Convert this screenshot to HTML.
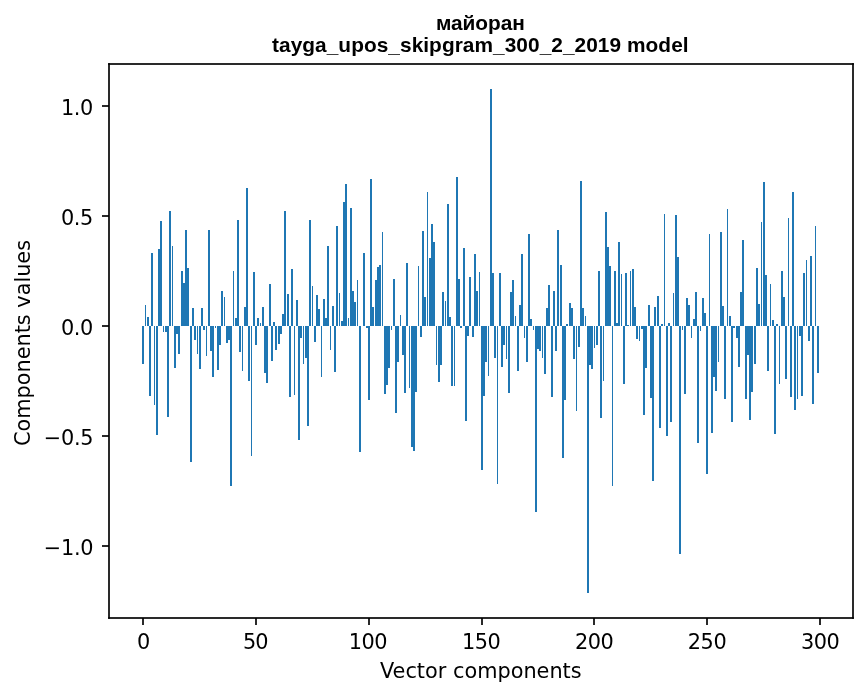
<!DOCTYPE html>
<html lang="ru">
<head>
<meta charset="utf-8">
<title>майоран — tayga_upos_skipgram_300_2_2019 model</title>
<style>
html,body{margin:0;padding:0;background:#fff;}
body{width:867px;height:696px;overflow:hidden;}
svg{display:block;}
.lab text{font-family:"DejaVu Sans","Liberation Sans",sans-serif;font-size:20.833px;fill:#000;}
.ttl text{font-family:"Liberation Sans","Arial",sans-serif;font-weight:bold;font-size:20.833px;fill:#000;}
</style>
</head>
<body>
<svg width="867" height="696" viewBox="0 0 867 696">
<rect x="0" y="0" width="867" height="696" fill="#ffffff"/>
<g fill="#1f77b4" shape-rendering="crispEdges">
<rect x="142" y="326" width="2" height="38"/>
<rect x="145" y="305" width="1" height="21"/>
<rect x="147" y="317" width="2" height="9"/>
<rect x="149" y="326" width="2" height="70"/>
<rect x="151" y="253" width="2" height="73"/>
<rect x="154" y="326" width="1" height="79"/>
<rect x="156" y="326" width="2" height="109"/>
<rect x="158" y="249" width="2" height="77"/>
<rect x="160" y="221" width="2" height="105"/>
<rect x="163" y="326" width="1" height="6"/>
<rect x="165" y="326" width="2" height="6"/>
<rect x="167" y="326" width="2" height="91"/>
<rect x="169" y="211" width="2" height="115"/>
<rect x="172" y="246" width="1" height="80"/>
<rect x="174" y="326" width="2" height="42"/>
<rect x="176" y="326" width="2" height="8"/>
<rect x="178" y="326" width="2" height="28"/>
<rect x="181" y="271" width="2" height="55"/>
<rect x="183" y="283" width="2" height="43"/>
<rect x="185" y="230" width="2" height="96"/>
<rect x="187" y="268" width="2" height="58"/>
<rect x="190" y="326" width="2" height="136"/>
<rect x="192" y="308" width="2" height="18"/>
<rect x="194" y="326" width="2" height="14"/>
<rect x="197" y="326" width="1" height="28"/>
<rect x="199" y="326" width="2" height="43"/>
<rect x="201" y="308" width="2" height="18"/>
<rect x="203" y="326" width="2" height="4"/>
<rect x="206" y="326" width="1" height="30"/>
<rect x="208" y="230" width="2" height="96"/>
<rect x="210" y="326" width="2" height="25"/>
<rect x="212" y="326" width="2" height="51"/>
<rect x="215" y="326" width="1" height="2"/>
<rect x="217" y="326" width="2" height="44"/>
<rect x="219" y="326" width="2" height="19"/>
<rect x="221" y="291" width="2" height="35"/>
<rect x="224" y="297" width="1" height="29"/>
<rect x="226" y="326" width="2" height="17"/>
<rect x="228" y="326" width="2" height="14"/>
<rect x="230" y="326" width="2" height="160"/>
<rect x="233" y="271" width="1" height="55"/>
<rect x="235" y="318" width="2" height="8"/>
<rect x="237" y="220" width="2" height="106"/>
<rect x="239" y="326" width="2" height="26"/>
<rect x="242" y="326" width="1" height="45"/>
<rect x="244" y="307" width="2" height="19"/>
<rect x="246" y="188" width="2" height="138"/>
<rect x="248" y="326" width="2" height="55"/>
<rect x="251" y="326" width="1" height="130"/>
<rect x="253" y="272" width="2" height="54"/>
<rect x="255" y="326" width="2" height="19"/>
<rect x="257" y="318" width="2" height="8"/>
<rect x="260" y="323" width="1" height="3"/>
<rect x="262" y="307" width="2" height="19"/>
<rect x="264" y="326" width="2" height="47"/>
<rect x="266" y="326" width="2" height="57"/>
<rect x="269" y="284" width="2" height="42"/>
<rect x="271" y="326" width="2" height="35"/>
<rect x="273" y="322" width="2" height="4"/>
<rect x="275" y="326" width="2" height="24"/>
<rect x="278" y="326" width="2" height="18"/>
<rect x="280" y="326" width="2" height="8"/>
<rect x="282" y="314" width="2" height="12"/>
<rect x="284" y="211" width="2" height="115"/>
<rect x="287" y="294" width="2" height="32"/>
<rect x="289" y="326" width="2" height="71"/>
<rect x="291" y="269" width="2" height="57"/>
<rect x="294" y="326" width="1" height="69"/>
<rect x="296" y="300" width="2" height="26"/>
<rect x="298" y="326" width="2" height="114"/>
<rect x="300" y="326" width="2" height="12"/>
<rect x="303" y="326" width="1" height="38"/>
<rect x="305" y="326" width="2" height="32"/>
<rect x="307" y="326" width="2" height="100"/>
<rect x="309" y="220" width="2" height="106"/>
<rect x="312" y="286" width="1" height="40"/>
<rect x="314" y="326" width="2" height="16"/>
<rect x="316" y="295" width="2" height="31"/>
<rect x="318" y="309" width="2" height="17"/>
<rect x="321" y="326" width="1" height="51"/>
<rect x="323" y="299" width="2" height="27"/>
<rect x="325" y="318" width="2" height="8"/>
<rect x="327" y="246" width="2" height="80"/>
<rect x="330" y="326" width="1" height="24"/>
<rect x="332" y="306" width="2" height="20"/>
<rect x="334" y="326" width="2" height="46"/>
<rect x="336" y="226" width="2" height="100"/>
<rect x="339" y="293" width="1" height="33"/>
<rect x="341" y="321" width="2" height="5"/>
<rect x="343" y="202" width="2" height="124"/>
<rect x="345" y="184" width="2" height="142"/>
<rect x="348" y="318" width="1" height="8"/>
<rect x="350" y="208" width="2" height="118"/>
<rect x="352" y="291" width="2" height="35"/>
<rect x="354" y="302" width="2" height="24"/>
<rect x="357" y="280" width="1" height="46"/>
<rect x="359" y="326" width="2" height="126"/>
<rect x="363" y="253" width="2" height="73"/>
<rect x="366" y="326" width="2" height="2"/>
<rect x="368" y="326" width="2" height="74"/>
<rect x="370" y="179" width="2" height="147"/>
<rect x="372" y="307" width="2" height="19"/>
<rect x="375" y="280" width="2" height="46"/>
<rect x="377" y="267" width="2" height="59"/>
<rect x="379" y="265" width="2" height="61"/>
<rect x="382" y="232" width="1" height="94"/>
<rect x="384" y="326" width="2" height="68"/>
<rect x="386" y="326" width="2" height="59"/>
<rect x="388" y="326" width="2" height="42"/>
<rect x="391" y="326" width="1" height="4"/>
<rect x="393" y="279" width="2" height="47"/>
<rect x="395" y="326" width="2" height="87"/>
<rect x="397" y="326" width="2" height="36"/>
<rect x="400" y="315" width="1" height="11"/>
<rect x="402" y="326" width="2" height="29"/>
<rect x="404" y="326" width="2" height="67"/>
<rect x="406" y="263" width="2" height="63"/>
<rect x="409" y="326" width="1" height="62"/>
<rect x="411" y="326" width="2" height="121"/>
<rect x="413" y="326" width="2" height="125"/>
<rect x="415" y="326" width="2" height="66"/>
<rect x="418" y="266" width="1" height="60"/>
<rect x="420" y="326" width="2" height="11"/>
<rect x="422" y="231" width="2" height="95"/>
<rect x="424" y="297" width="2" height="29"/>
<rect x="427" y="192" width="1" height="134"/>
<rect x="429" y="258" width="2" height="68"/>
<rect x="431" y="224" width="2" height="102"/>
<rect x="433" y="242" width="2" height="84"/>
<rect x="436" y="326" width="1" height="39"/>
<rect x="438" y="326" width="2" height="56"/>
<rect x="440" y="326" width="2" height="39"/>
<rect x="442" y="292" width="2" height="34"/>
<rect x="445" y="301" width="1" height="25"/>
<rect x="447" y="204" width="2" height="122"/>
<rect x="449" y="317" width="2" height="9"/>
<rect x="451" y="326" width="2" height="60"/>
<rect x="454" y="326" width="1" height="60"/>
<rect x="456" y="177" width="2" height="149"/>
<rect x="458" y="279" width="2" height="47"/>
<rect x="460" y="326" width="2" height="2"/>
<rect x="463" y="248" width="2" height="78"/>
<rect x="465" y="326" width="2" height="95"/>
<rect x="467" y="326" width="2" height="10"/>
<rect x="469" y="277" width="2" height="49"/>
<rect x="472" y="326" width="2" height="11"/>
<rect x="474" y="254" width="2" height="72"/>
<rect x="476" y="291" width="2" height="35"/>
<rect x="479" y="272" width="1" height="54"/>
<rect x="481" y="326" width="2" height="144"/>
<rect x="483" y="326" width="2" height="70"/>
<rect x="485" y="326" width="2" height="36"/>
<rect x="488" y="326" width="1" height="50"/>
<rect x="490" y="89" width="2" height="237"/>
<rect x="492" y="273" width="2" height="53"/>
<rect x="494" y="326" width="2" height="32"/>
<rect x="497" y="326" width="1" height="158"/>
<rect x="499" y="273" width="2" height="53"/>
<rect x="501" y="326" width="2" height="41"/>
<rect x="503" y="326" width="2" height="19"/>
<rect x="506" y="326" width="1" height="33"/>
<rect x="508" y="326" width="2" height="67"/>
<rect x="510" y="292" width="2" height="34"/>
<rect x="512" y="280" width="2" height="46"/>
<rect x="515" y="316" width="1" height="10"/>
<rect x="517" y="326" width="2" height="45"/>
<rect x="519" y="305" width="2" height="21"/>
<rect x="521" y="254" width="2" height="72"/>
<rect x="524" y="326" width="1" height="12"/>
<rect x="526" y="326" width="2" height="36"/>
<rect x="528" y="234" width="2" height="92"/>
<rect x="530" y="319" width="2" height="7"/>
<rect x="533" y="326" width="1" height="4"/>
<rect x="535" y="326" width="2" height="186"/>
<rect x="537" y="326" width="2" height="23"/>
<rect x="539" y="326" width="2" height="25"/>
<rect x="542" y="326" width="1" height="32"/>
<rect x="544" y="326" width="2" height="48"/>
<rect x="546" y="308" width="2" height="18"/>
<rect x="548" y="285" width="2" height="41"/>
<rect x="551" y="326" width="2" height="71"/>
<rect x="553" y="291" width="2" height="35"/>
<rect x="555" y="326" width="2" height="25"/>
<rect x="557" y="230" width="2" height="96"/>
<rect x="560" y="265" width="2" height="61"/>
<rect x="562" y="326" width="2" height="132"/>
<rect x="564" y="326" width="2" height="74"/>
<rect x="566" y="324" width="2" height="2"/>
<rect x="569" y="303" width="2" height="23"/>
<rect x="571" y="308" width="2" height="18"/>
<rect x="573" y="326" width="2" height="33"/>
<rect x="576" y="326" width="1" height="85"/>
<rect x="578" y="326" width="2" height="21"/>
<rect x="580" y="181" width="2" height="145"/>
<rect x="582" y="308" width="2" height="18"/>
<rect x="585" y="316" width="1" height="10"/>
<rect x="587" y="326" width="2" height="267"/>
<rect x="589" y="326" width="2" height="39"/>
<rect x="591" y="326" width="2" height="43"/>
<rect x="594" y="326" width="1" height="22"/>
<rect x="596" y="326" width="2" height="19"/>
<rect x="598" y="271" width="2" height="55"/>
<rect x="600" y="326" width="2" height="92"/>
<rect x="603" y="326" width="1" height="55"/>
<rect x="605" y="212" width="2" height="114"/>
<rect x="607" y="247" width="2" height="79"/>
<rect x="609" y="266" width="2" height="60"/>
<rect x="612" y="326" width="1" height="160"/>
<rect x="614" y="271" width="2" height="55"/>
<rect x="616" y="323" width="2" height="3"/>
<rect x="618" y="242" width="2" height="84"/>
<rect x="621" y="274" width="1" height="52"/>
<rect x="623" y="326" width="2" height="58"/>
<rect x="625" y="273" width="2" height="53"/>
<rect x="627" y="325" width="2" height="1"/>
<rect x="630" y="271" width="1" height="55"/>
<rect x="632" y="269" width="2" height="57"/>
<rect x="634" y="307" width="2" height="19"/>
<rect x="636" y="326" width="2" height="13"/>
<rect x="639" y="326" width="1" height="15"/>
<rect x="641" y="326" width="2" height="3"/>
<rect x="643" y="326" width="2" height="89"/>
<rect x="645" y="326" width="2" height="42"/>
<rect x="648" y="305" width="2" height="21"/>
<rect x="650" y="326" width="2" height="72"/>
<rect x="652" y="326" width="2" height="155"/>
<rect x="654" y="307" width="2" height="19"/>
<rect x="657" y="296" width="2" height="30"/>
<rect x="659" y="326" width="2" height="102"/>
<rect x="661" y="324" width="2" height="2"/>
<rect x="664" y="214" width="1" height="112"/>
<rect x="666" y="326" width="2" height="110"/>
<rect x="668" y="323" width="2" height="3"/>
<rect x="670" y="326" width="2" height="96"/>
<rect x="673" y="293" width="1" height="33"/>
<rect x="675" y="215" width="2" height="111"/>
<rect x="677" y="257" width="2" height="69"/>
<rect x="679" y="326" width="2" height="228"/>
<rect x="682" y="326" width="1" height="4"/>
<rect x="684" y="326" width="2" height="68"/>
<rect x="686" y="298" width="2" height="28"/>
<rect x="688" y="305" width="2" height="21"/>
<rect x="691" y="326" width="1" height="12"/>
<rect x="693" y="319" width="2" height="7"/>
<rect x="695" y="292" width="2" height="34"/>
<rect x="697" y="326" width="2" height="117"/>
<rect x="700" y="326" width="1" height="5"/>
<rect x="702" y="298" width="2" height="28"/>
<rect x="704" y="313" width="2" height="13"/>
<rect x="706" y="326" width="2" height="148"/>
<rect x="709" y="234" width="1" height="92"/>
<rect x="711" y="326" width="2" height="107"/>
<rect x="713" y="326" width="2" height="51"/>
<rect x="715" y="326" width="2" height="65"/>
<rect x="718" y="326" width="1" height="36"/>
<rect x="720" y="232" width="2" height="94"/>
<rect x="722" y="306" width="2" height="20"/>
<rect x="724" y="326" width="2" height="73"/>
<rect x="727" y="209" width="1" height="117"/>
<rect x="729" y="316" width="2" height="10"/>
<rect x="731" y="326" width="2" height="96"/>
<rect x="733" y="326" width="2" height="2"/>
<rect x="736" y="326" width="2" height="12"/>
<rect x="738" y="326" width="2" height="41"/>
<rect x="740" y="292" width="2" height="34"/>
<rect x="742" y="240" width="2" height="86"/>
<rect x="745" y="326" width="2" height="73"/>
<rect x="747" y="326" width="2" height="29"/>
<rect x="749" y="326" width="2" height="94"/>
<rect x="751" y="326" width="2" height="66"/>
<rect x="754" y="326" width="2" height="38"/>
<rect x="756" y="268" width="2" height="58"/>
<rect x="758" y="304" width="2" height="22"/>
<rect x="761" y="222" width="1" height="104"/>
<rect x="763" y="182" width="2" height="144"/>
<rect x="765" y="275" width="2" height="51"/>
<rect x="767" y="326" width="2" height="45"/>
<rect x="770" y="284" width="1" height="42"/>
<rect x="772" y="320" width="2" height="6"/>
<rect x="774" y="326" width="2" height="108"/>
<rect x="776" y="324" width="2" height="2"/>
<rect x="779" y="326" width="1" height="58"/>
<rect x="781" y="271" width="2" height="55"/>
<rect x="783" y="297" width="2" height="29"/>
<rect x="785" y="326" width="2" height="53"/>
<rect x="788" y="218" width="1" height="108"/>
<rect x="790" y="326" width="2" height="71"/>
<rect x="792" y="192" width="2" height="134"/>
<rect x="794" y="326" width="2" height="84"/>
<rect x="797" y="326" width="1" height="73"/>
<rect x="799" y="326" width="2" height="10"/>
<rect x="801" y="326" width="2" height="70"/>
<rect x="803" y="273" width="2" height="53"/>
<rect x="806" y="260" width="1" height="66"/>
<rect x="808" y="326" width="2" height="15"/>
<rect x="810" y="256" width="2" height="70"/>
<rect x="812" y="326" width="2" height="78"/>
<rect x="815" y="226" width="1" height="100"/>
<rect x="817" y="326" width="2" height="47"/>
</g>
<g fill="#2a2a2a" shape-rendering="crispEdges">
<rect x="142" y="619" width="2" height="6"/>
<rect x="255" y="619" width="2" height="6"/>
<rect x="368" y="619" width="2" height="6"/>
<rect x="481" y="619" width="2" height="6"/>
<rect x="593" y="619" width="2" height="6"/>
<rect x="706" y="619" width="2" height="6"/>
<rect x="819" y="619" width="2" height="6"/>
<rect x="102" y="105" width="6" height="2"/>
<rect x="102" y="215" width="6" height="2"/>
<rect x="102" y="325" width="6" height="2"/>
<rect x="102" y="435" width="6" height="2"/>
<rect x="102" y="545" width="6" height="2"/>
<rect x="108" y="63" width="2" height="556"/>
<rect x="852" y="63" width="2" height="556"/>
<rect x="108" y="63" width="746" height="2"/>
<rect x="108" y="617" width="746" height="2"/>
</g>
<g fill="#070707" shape-rendering="crispEdges">
<rect x="142" y="618" width="2" height="1"/>
<rect x="255" y="618" width="2" height="1"/>
<rect x="368" y="618" width="2" height="1"/>
<rect x="481" y="618" width="2" height="1"/>
<rect x="593" y="618" width="2" height="1"/>
<rect x="706" y="618" width="2" height="1"/>
<rect x="819" y="618" width="2" height="1"/>
<rect x="108" y="105" width="1" height="2"/>
<rect x="108" y="215" width="1" height="2"/>
<rect x="108" y="325" width="1" height="2"/>
<rect x="108" y="435" width="1" height="2"/>
<rect x="108" y="545" width="1" height="2"/>
<rect x="109" y="64" width="1" height="1"/>
<rect x="852" y="64" width="1" height="1"/>
<rect x="109" y="617" width="1" height="1"/>
<rect x="852" y="617" width="1" height="1"/>
</g>
<g fill="#0c0c0c" shape-rendering="crispEdges">
<rect x="109" y="63" width="1" height="1"/>
<rect x="108" y="64" width="1" height="1"/>
<rect x="852" y="63" width="1" height="1"/>
<rect x="853" y="64" width="1" height="1"/>
<rect x="108" y="617" width="1" height="1"/>
<rect x="109" y="618" width="1" height="1"/>
<rect x="853" y="617" width="1" height="1"/>
<rect x="852" y="618" width="1" height="1"/>
</g>
<g fill="#171717" shape-rendering="crispEdges">
<rect x="108" y="63" width="1" height="1"/>
<rect x="853" y="63" width="1" height="1"/>
<rect x="108" y="618" width="1" height="1"/>
<rect x="853" y="618" width="1" height="1"/>
</g>
<g class="lab">
<text x="143.69" y="648.6" text-anchor="middle">0</text>
<text x="255.76" y="648.6" text-anchor="middle" textLength="25.32" lengthAdjust="spacing">50</text>
<text x="368.09" y="648.6" text-anchor="middle" textLength="38.87" lengthAdjust="spacing">100</text>
<text x="481.33" y="648.6" text-anchor="middle" textLength="38.87" lengthAdjust="spacing">150</text>
<text x="594.37" y="648.6" text-anchor="middle" textLength="38.87" lengthAdjust="spacing">200</text>
<text x="707.21" y="648.6" text-anchor="middle" textLength="38.87" lengthAdjust="spacing">250</text>
<text x="820.4" y="648.6" text-anchor="middle" textLength="38.87" lengthAdjust="spacing">300</text>
<text x="93.15" y="114.6" text-anchor="end" textLength="32.23" lengthAdjust="spacing">1.0</text>
<text x="93.15" y="224.6" text-anchor="end" textLength="32.23" lengthAdjust="spacing">0.5</text>
<text x="93.15" y="334.6" text-anchor="end" textLength="32.23" lengthAdjust="spacing">0.0</text>
<text x="93.45" y="444.6" text-anchor="end" textLength="49.58" lengthAdjust="spacing">−0.5</text>
<text x="93.45" y="554.6" text-anchor="end" textLength="49.58" lengthAdjust="spacing">−1.0</text>
<text x="480.8" y="677.5" text-anchor="middle">Vector components</text>
<text transform="translate(29.5,343.0) rotate(-90)" text-anchor="middle" textLength="206.14" lengthAdjust="spacing">Components values</text>
</g>
<g class="ttl">
<text x="436.0" y="30.0" textLength="88.85" lengthAdjust="spacing">майоран</text>
<text x="272.0" y="52.0" textLength="416.6" lengthAdjust="spacing">tayga_upos_skipgram_300_2_2019 model</text>
</g>
</svg>
</body>
</html>
